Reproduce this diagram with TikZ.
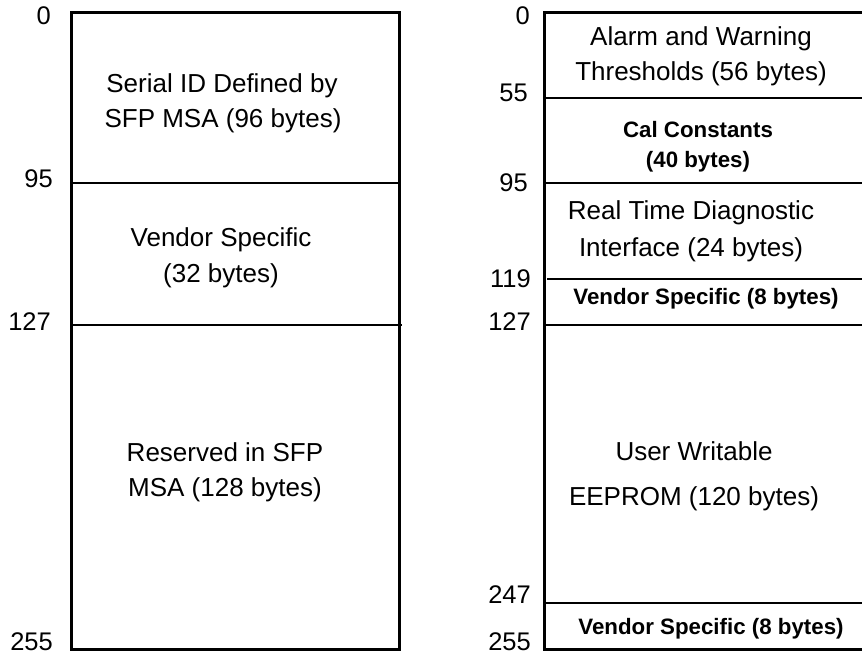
\documentclass[tikz,border=0pt]{standalone}
\usepackage{fontspec}
\setmainfont{Liberation Sans}
\begin{document}
\begin{tikzpicture}[x=1pt,y=-1pt,
  outer/.style={line width=3pt},
  inner/.style={line width=2pt},
  txt/.style={anchor=base,inner sep=0pt,font=\fontsize{26}{30}\selectfont},
  btxt/.style={anchor=base,inner sep=0pt,font=\fontsize{22.3}{27}\selectfont\bfseries},
  num/.style={anchor=base east,inner sep=0pt,font=\fontsize{25.5}{30}\selectfont}]
\useasboundingbox (0,0) rectangle (862,655);
\clip (0,0) rectangle (862,655);
\fill[white] (0,0) rectangle (862,655);
% left box
\draw[outer] (71,13) rectangle (399,649);
\draw[inner] (71,183) -- (399,183);
\draw[inner] (73,325) -- (402,325);
% right box
\draw[outer] (544,13) rectangle (880,649);
\draw[inner] (544,98) -- (880,98);
\draw[inner] (544,183) -- (880,183);
\draw[inner] (547,279) -- (880,279);
\draw[inner] (544,325) -- (880,325);
\draw[inner] (544,603) -- (880,603);
% left numbers
\node[num] (l0) at (51,25) {0};
\node[num] (l95) at (53,188) {95};
\node[num] (l127) at (51,330) {127};
\node[num] (l255) at (53,650) {255};
% right numbers
\node[num] (r0) at (530,25) {0};
\node[num] (r55) at (528,102) {55};
\node[num] (r95) at (528,192) {95};
\node[num] (r119) at (531,287) {119};
\node[num] (r127) at (531,330) {127};
\node[num] (r247) at (531,603) {247};
\node[num] (r255) at (531,650) {255};
% left texts
\node[txt] (sa) at (222,93) {Serial ID Defined by};
\node[txt] (sb) at (223,128) {SFP MSA (96 bytes)};
\node[txt] (va) at (221,247) {Vendor Specific};
\node[txt] (vb) at (221,282) {(32 bytes)};
\node[txt] (ra) at (225,461) {Reserved in SFP};
\node[txt] (rb) at (225,496) {MSA (128 bytes)};
% right texts
\node[txt] (aa) at (701,46) {Alarm and Warning};
\node[txt] (ab) at (701,81) {Thresholds (56 bytes)};
\node[btxt] (ca) at (698,138) {Cal Constants};
\node[btxt] (cb) at (698,168) {(40 bytes)};
\node[txt] (da) at (691,220) {Real Time Diagnostic};
\node[txt] (db) at (691,256) {Interface (24 bytes)};
\node[btxt] (v8a) at (706,304) {Vendor Specific (8 bytes)};
\node[txt] (ua) at (694,460) {User Writable};
\node[txt] (ub) at (694,505) {EEPROM (120 bytes)};
\node[btxt] (v8b) at (711,634) {Vendor Specific (8 bytes)};
\end{tikzpicture}
\end{document}
